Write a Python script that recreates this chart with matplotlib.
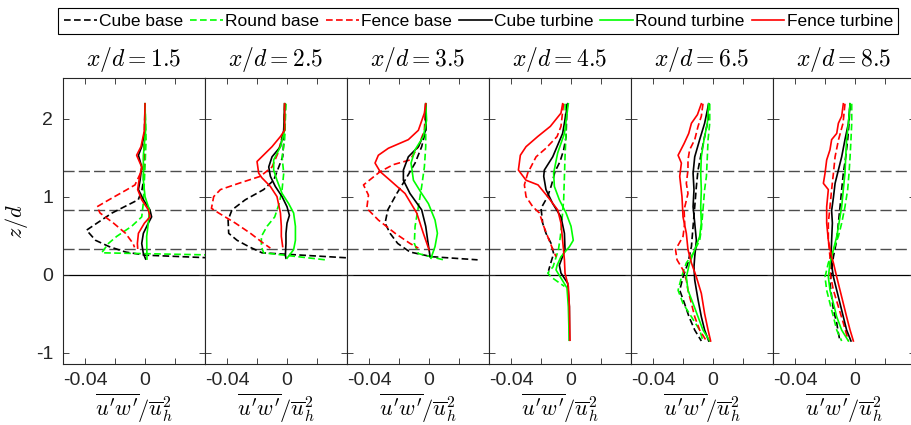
import matplotlib
matplotlib.use("Agg")
import matplotlib.pyplot as plt

plt.rcParams["font.family"] = ["Liberation Sans", "DejaVu Sans"]
plt.rcParams["mathtext.fontset"] = "cm"

stations = ["1.5", "2.5", "3.5", "4.5", "6.5", "8.5"]
labels = ["Cube base", "Round base", "Fence base",
          "Cube turbine", "Round turbine", "Fence turbine"]
colors = ["k", "#00ff00", "#ff0000", "k", "#00ff00", "#ff0000"]
styles = ["--", "--", "--", "-", "-", "-"]

# reference heights (rotor bottom, hub, rotor top)
ref_heights = [1 / 3, 5 / 6, 4 / 3]

# ---- x/d = 1.5 --------------------------------------------------------
cube_base_z_15 = [2.19, 1.64, 1.21, 1.09, 0.96, 0.79, 0.57, 0.44, 0.36, 0.29, 0.25, 0.21]
cube_base_x_15 = [0.0, -0.0005, -0.001, -0.002, -0.0045, -0.022, -0.039, -0.033, -0.024, -0.013, 0.0, 0.05]
round_base_z_15 = [2.19, 1.73, 1.38, 1.09, 0.89, 0.74, 0.62, 0.49, 0.40, 0.28, 0.25]
round_base_x_15 = [0.0, 0.0007, 0.0, -0.0007, -0.0013, -0.0022, -0.0089, -0.0189, -0.0244, -0.0289, 0.05]
fence_base_z_15 = [2.19, 1.73, 1.38, 1.15, 1.09, 0.96, 0.87, 0.79, 0.66, 0.53, 0.40, 0.35]
fence_base_x_15 = [0.0, -0.0004, -0.0011, -0.0067, -0.012, -0.024, -0.032, -0.030, -0.021, -0.013, -0.008, -0.007]
cube_turb_z_15 = [2.19, 1.85, 1.64, 1.53, 1.38, 1.21, 1.09, 0.96, 0.83, 0.74, 0.66, 0.53, 0.40, 0.27, 0.20]
cube_turb_x_15 = [0.0, 0.0, -0.0022, -0.0044, -0.0022, -0.0033, -0.0044, -0.0011, 0.0033, 0.0044, 0.0022, -0.0011, -0.0022, -0.0011, 0.0004]
round_turb_z_15 = [2.19, 1.85, 1.53, 1.21, 1.00, 0.83, 0.66, 0.49, 0.20]
round_turb_x_15 = [0.0, 0.0004, -0.0011, -0.0011, 0.0, 0.0029, 0.0022, 0.0011, 0.0013]
fence_turb_z_15 = [2.19, 1.85, 1.64, 1.53, 1.38, 1.21, 1.09, 0.96, 0.83, 0.74, 0.66, 0.53, 0.40, 0.34]
fence_turb_x_15 = [0.0, -0.0004, -0.0027, -0.0056, -0.0022, -0.004, -0.0049, -0.0022, 0.0022, 0.0033, -0.0004, -0.0044, -0.0051, -0.0049]

# ---- x/d = 2.5 --------------------------------------------------------
cube_base_z_25 = [2.19, 1.85, 1.51, 1.21, 1.09, 0.96, 0.83, 0.70, 0.53, 0.44, 0.36, 0.28, 0.21]
cube_base_x_25 = [-0.0011, -0.0016, -0.0029, -0.0089, -0.0156, -0.0278, -0.0367, -0.0393, -0.0389, -0.0333, -0.0256, -0.0167, 0.045]
round_base_z_25 = [2.19, 1.73, 1.51, 1.30, 1.09, 0.92, 0.74, 0.62, 0.49, 0.36, 0.28, 0.19]
round_base_x_25 = [-0.0007, -0.0016, -0.0033, -0.0022, -0.0033, -0.0051, -0.0082, -0.0133, -0.0171, -0.0171, -0.0156, 0.0256]
fence_base_z_25 = [2.19, 1.85, 1.56, 1.38, 1.26, 1.17, 1.09, 1.00, 0.85, 0.79, 0.66, 0.53, 0.40, 0.34]
fence_base_x_25 = [-0.0016, -0.0022, -0.006, -0.01, -0.0178, -0.0322, -0.0444, -0.0489, -0.0504, -0.0456, -0.0344, -0.0244, -0.0156, -0.0111]
cube_turb_z_25 = [2.19, 1.85, 1.64, 1.51, 1.38, 1.26, 1.13, 1.00, 0.87, 0.76, 0.66, 0.53, 0.40, 0.25, 0.21]
cube_turb_x_25 = [-0.0016, -0.0022, -0.0044, -0.01, -0.0122, -0.0111, -0.0078, -0.0033, 0.0, 0.0016, 0.0, -0.0007, -0.0007, -0.0011, -0.0007]
round_turb_z_25 = [2.19, 1.85, 1.64, 1.47, 1.34, 1.21, 1.04, 0.91, 0.79, 0.62, 0.44, 0.32, 0.21]
round_turb_x_25 = [-0.0016, -0.0016, -0.0044, -0.0089, -0.0089, -0.0067, -0.0033, 0.0011, 0.0044, 0.0056, 0.0056, 0.0044, 0.0]
fence_turb_z_25 = [2.19, 1.85, 1.77, 1.64, 1.45, 1.30, 1.24, 1.13, 1.00, 0.79, 0.62, 0.49, 0.36]
fence_turb_x_25 = [-0.0016, -0.0016, -0.0044, -0.01, -0.02, -0.0189, -0.0167, -0.0111, -0.0067, -0.0044, -0.0038, -0.0038, -0.0029]

# ---- x/d = 3.5 --------------------------------------------------------
cube_base_z_35 = [2.19, 1.85, 1.64, 1.43, 1.21, 1.04, 0.83, 0.66, 0.53, 0.40, 0.29, 0.23, 0.19]
cube_base_x_35 = [-0.0022, -0.0022, -0.0049, -0.0093, -0.016, -0.0215, -0.0275, -0.0293, -0.026, -0.0209, -0.0127, 0.0018, 0.0324]
round_base_z_35 = [2.19, 1.64, 1.38, 1.13, 0.87, 0.62, 0.40, 0.27, 0.19]
round_base_x_35 = [-0.0022, -0.0022, -0.0031, -0.0049, -0.0071, -0.0093, -0.0098, -0.0071, 0.0096]
fence_base_z_35 = [2.19, 1.85, 1.64, 1.47, 1.41, 1.32, 1.15, 1.02, 0.85, 0.70, 0.53, 0.40, 0.34]
fence_base_x_35 = [-0.0022, -0.0031, -0.0071, -0.0127, -0.0238, -0.0326, -0.0437, -0.0404, -0.0415, -0.0338, -0.0226, -0.0127, -0.0071]
cube_turb_z_35 = [2.19, 1.85, 1.64, 1.51, 1.34, 1.21, 1.04, 0.83, 0.62, 0.44, 0.23]
cube_turb_x_35 = [-0.0022, -0.0022, -0.0071, -0.0138, -0.0171, -0.0171, -0.0127, -0.0049, -0.0022, -0.0009, 0.0007]
round_turb_z_35 = [2.19, 1.98, 1.77, 1.60, 1.43, 1.21, 1.04, 0.91, 0.70, 0.53, 0.36, 0.21]
round_turb_x_35 = [-0.0022, -0.0016, -0.0038, -0.0093, -0.012, -0.0104, -0.0049, -0.0004, 0.004, 0.0056, 0.004, 0.0013]
fence_turb_z_35 = [2.19, 2.07, 1.85, 1.73, 1.62, 1.53, 1.43, 1.32, 1.21, 1.04, 0.79, 0.53, 0.32]
fence_turb_x_35 = [-0.0022, -0.0031, -0.0071, -0.0138, -0.0271, -0.0338, -0.036, -0.0326, -0.026, -0.016, -0.0082, -0.0038, 0.0]

# ---- x/d = 4.5 --------------------------------------------------------
cube_base_z_45 = [2.19, 1.77, 1.60, 1.45, 1.32, 1.15, 1.00, 0.85, 0.66, 0.53, 0.40, 0.27, 0.15, 0.05]
cube_base_x_45 = [-0.0027, -0.0033, -0.0049, -0.0073, -0.0107, -0.013, -0.0156, -0.020, -0.0189, -0.0167, -0.0133, -0.0116, -0.0135, -0.015]
round_base_z_45 = [2.19, 1.81, 1.51, 1.26, 0.96, 0.66, 0.49, 0.32, 0.10, 0.02, -0.03, -0.09, -0.15]
round_base_x_45 = [-0.004, -0.0033, -0.004, -0.0044, -0.0049, -0.0062, -0.0071, -0.0084, -0.012, -0.0155, -0.0133, -0.0089, -0.0044]
fence_base_z_45 = [2.19, 1.90, 1.77, 1.62, 1.51, 1.30, 1.15, 1.00, 0.87, 0.79, 0.62, 0.49, 0.36, 0.23]
fence_base_x_45 = [-0.005, -0.0067, -0.0093, -0.0167, -0.0233, -0.0289, -0.0311, -0.03, -0.0255, -0.0211, -0.0182, -0.0156, -0.0129, -0.01]
cube_turb_z_45 = [2.19, 1.81, 1.51, 1.34, 1.26, 1.09, 0.91, 0.74, 0.53, 0.32, 0.12, 0.02, -0.11, -0.41, -0.84]
cube_turb_x_45 = [-0.0022, -0.0056, -0.0122, -0.0178, -0.0182, -0.0167, -0.0122, -0.0067, -0.0044, -0.004, -0.0078, -0.0067, -0.0022, -0.0011, -0.001]
round_turb_z_45 = [2.19, 1.81, 1.56, 1.30, 1.13, 0.96, 0.79, 0.62, 0.44, 0.36, 0.23, 0.12, 0.06, -0.17, -0.41, -0.84]
round_turb_x_45 = [-0.0018, -0.0044, -0.0089, -0.0116, -0.0111, -0.0078, -0.0033, 0.0, 0.0015, -0.001, -0.0067, -0.0093, -0.01, -0.0027, -0.0018, -0.0012]
fence_turb_z_45 = [2.19, 2.07, 1.90, 1.77, 1.64, 1.53, 1.34, 1.21, 1.15, 1.00, 0.83, 0.66, 0.44, 0.19, 0.02, -0.15, -0.41, -0.84]
fence_turb_x_45 = [-0.0056, -0.0067, -0.0138, -0.0222, -0.03, -0.0338, -0.0351, -0.03, -0.022, -0.0156, -0.0089, -0.0067, -0.0056, -0.0044, -0.004, -0.0018, -0.0011, -0.0007]

# ---- x/d = 6.5 --------------------------------------------------------
cube_base_z_65 = [2.19, 1.98, 1.77, 1.56, 1.34, 1.13, 0.87, 0.62, 0.36, 0.15, -0.03, -0.20, -0.37, -0.54, -0.71, -0.85]
cube_base_x_65 = [-0.0029, -0.0033, -0.0056, -0.0078, -0.01, -0.0111, -0.0122, -0.0133, -0.0144, -0.0167, -0.02, -0.0222, -0.019, -0.016, -0.0122, -0.0078]
round_base_z_65 = [2.19, 1.94, 1.73, 1.51, 1.26, 1.09, 0.83, 0.58, 0.44, 0.27, 0.15, -0.03, -0.20, -0.37, -0.54, -0.71, -0.85]
round_base_x_65 = [-0.0022, -0.0022, -0.0033, -0.0038, -0.0044, -0.0056, -0.0067, -0.0078, -0.0089, -0.0133, -0.0178, -0.021, -0.0233, -0.02, -0.0144, -0.0089, -0.0067]
fence_base_z_65 = [2.19, 2.03, 1.90, 1.73, 1.60, 1.47, 1.34, 1.17, 1.04, 0.83, 0.66, 0.49, 0.32, 0.19, 0.06, -0.07, -0.20, -0.37, -0.54, -0.71, -0.85]
fence_base_x_65 = [-0.0067, -0.0078, -0.01, -0.0122, -0.0156, -0.0167, -0.0167, -0.0178, -0.0167, -0.0193, -0.0189, -0.02, -0.025, -0.024, -0.02, -0.0178, -0.0167, -0.0144, -0.0122, -0.0089, -0.0044]
cube_turb_z_65 = [2.19, 1.94, 1.73, 1.51, 1.30, 1.09, 0.87, 0.66, 0.44, 0.23, 0.10, -0.07, -0.32, -0.54, -0.71, -0.85]
cube_turb_x_65 = [-0.0029, -0.0056, -0.0089, -0.0122, -0.0133, -0.0127, -0.0133, -0.0122, -0.0111, -0.0122, -0.0127, -0.0122, -0.01, -0.0078, -0.0056, -0.0029]
round_turb_z_65 = [2.19, 1.94, 1.73, 1.51, 1.30, 1.09, 0.87, 0.66, 0.49, 0.32, 0.15, -0.03, -0.20, -0.37, -0.54, -0.71, -0.85]
round_turb_x_65 = [-0.0029, -0.0038, -0.006, -0.0078, -0.0082, -0.0078, -0.0082, -0.0078, -0.0089, -0.0122, -0.0156, -0.0178, -0.0167, -0.0133, -0.01, -0.0067, -0.0022]
fence_turb_z_65 = [2.19, 2.05, 1.94, 1.81, 1.68, 1.53, 1.43, 1.26, 1.00, 0.74, 0.53, 0.32, 0.15, -0.03, -0.24, -0.50, -0.71, -0.85]
fence_turb_x_65 = [-0.0078, -0.0104, -0.0144, -0.0162, -0.0193, -0.0233, -0.0211, -0.0222, -0.0207, -0.02, -0.0178, -0.0167, -0.0144, -0.0111, -0.0078, -0.0056, -0.0033, -0.0016]

# ---- x/d = 8.5 --------------------------------------------------------
cube_base_z_85 = [2.19, 1.94, 1.73, 1.51, 1.30, 1.09, 0.87, 0.66, 0.44, 0.23, 0.06, -0.11, -0.28, -0.45, -0.62, -0.75, -0.85]
cube_base_x_85 = [-0.0033, -0.004, -0.0049, -0.0062, -0.0078, -0.0089, -0.01, -0.0111, -0.0122, -0.0144, -0.0156, -0.0167, -0.0156, -0.0144, -0.0122, -0.0111, -0.01]
round_base_z_85 = [2.19, 1.94, 1.73, 1.51, 1.30, 1.09, 0.87, 0.66, 0.49, 0.32, 0.15, -0.03, -0.20, -0.37, -0.54, -0.71, -0.85]
round_base_x_85 = [-0.0022, -0.0022, -0.0027, -0.0033, -0.004, -0.0049, -0.0067, -0.0089, -0.0111, -0.0144, -0.0178, -0.02, -0.0189, -0.0167, -0.0144, -0.0122, -0.0089]
fence_base_z_85 = [2.19, 1.94, 1.73, 1.51, 1.30, 1.09, 0.87, 0.66, 0.44, 0.23, 0.02, -0.20, -0.41, -0.62, -0.85]
fence_base_x_85 = [-0.0067, -0.008, -0.011, -0.0133, -0.0144, -0.0156, -0.0167, -0.0178, -0.0178, -0.0167, -0.0167, -0.0144, -0.0111, -0.0078, -0.0044]
cube_turb_z_85 = [2.19, 1.94, 1.73, 1.51, 1.34, 1.17, 0.99, 0.82, 0.66, 0.44, 0.23, 0.06, -0.03, -0.20, -0.37, -0.54, -0.71, -0.85]
cube_turb_x_85 = [-0.0033, -0.0044, -0.0067, -0.0089, -0.0111, -0.0133, -0.0144, -0.0156, -0.0151, -0.0156, -0.016, -0.0151, -0.0144, -0.0122, -0.01, -0.0078, -0.0056, -0.0027]
round_turb_z_85 = [2.19, 1.94, 1.73, 1.51, 1.30, 1.09, 0.87, 0.66, 0.49, 0.32, 0.15, -0.03, -0.20, -0.37, -0.54, -0.71, -0.85]
round_turb_x_85 = [-0.0033, -0.0044, -0.0056, -0.0062, -0.0067, -0.0078, -0.0089, -0.0107, -0.0122, -0.0144, -0.0167, -0.0178, -0.0167, -0.0144, -0.0122, -0.0089, -0.0044]
fence_turb_z_85 = [2.19, 2.03, 1.94, 1.81, 1.73, 1.60, 1.47, 1.30, 1.17, 1.09, 0.87, 0.66, 0.44, 0.23, 0.15, -0.03, -0.20, -0.37, -0.54, -0.71, -0.85]
fence_turb_x_85 = [-0.0078, -0.0089, -0.0111, -0.0122, -0.0156, -0.0167, -0.0189, -0.02, -0.0211, -0.0178, -0.0189, -0.0189, -0.0178, -0.0156, -0.0144, -0.0122, -0.01, -0.0078, -0.0056, -0.0033, -0.0011]

g = globals()
profiles = {}
for st in stations:
    tag = st.replace(".", "")
    profiles[st] = [(g[f"{n}_x_{tag}"], g[f"{n}_z_{tag}"])
                    for n in ["cube_base", "round_base", "fence_base",
                              "cube_turb", "round_turb", "fence_turb"]]

# ---- figure -----------------------------------------------------------
W, H = 912, 425
fig = plt.figure(figsize=(W / 100, H / 100), dpi=100)
left0, pw, top, bot = 63, 142, 78, 364
axc = "0.15"

handles = []
for i, st in enumerate(stations):
    ax = fig.add_axes([(left0 + i * pw) / W, 1 - bot / H, pw / W, (bot - top) / H])
    for h in ref_heights:
        ax.axhline(h, color="0.3", lw=1.0, ls=(0, (8, 3)), zorder=1)
    ax.axhline(0, color="k", lw=0.9, zorder=1)
    for (x, z), lab, c, s in zip(profiles[st], labels, colors, styles):
        ls = (0, (4, 2)) if s == "--" else "-"
        ln, = ax.plot(x, z, color=c, ls=ls, lw=1.2, label=lab, zorder=3)
        if i == 0:
            handles.append(ln)
    ax.set_xlim(-0.0547, 0.04)
    ax.set_ylim(-1.145, 2.52)
    ax.set_xticks([-0.04, -0.02, 0, 0.02])
    ax.set_xticklabels(["-0.04", "", "0", ""])
    ax.set_yticks([-1, 0, 1, 2])
    if i == 0:
        ax.set_yticklabels(["-1", "0", "1", "2"])
        ax.set_ylabel(r"$z/d$", fontsize=16, labelpad=4)
    else:
        ax.set_yticklabels([])
    ax.tick_params(direction="in", top=True, right=True, length=4,
                   width=0.6, color=axc, labelsize=14, labelcolor="0.15")
    ax.tick_params(axis="x", pad=6)
    ax.tick_params(axis="y", pad=7)
    for sp in ax.spines.values():
        sp.set_color(axc)
        sp.set_linewidth(0.8)
    ax.set_title(rf"$x/d = {st}$", fontsize=17, pad=9)
    ax.set_xlabel(r"$\overline{u'w'}/\overline{u}_h^2$", fontsize=16, labelpad=2)

leg = fig.legend(handles, labels, loc="upper left",
                 bbox_to_anchor=(58 / W, 1 - 8 / H), ncol=6, fontsize=12.5,
                 frameon=True, fancybox=False, edgecolor="k", framealpha=1,
                 handlelength=1.9, handletextpad=0.12, columnspacing=0.4,
                 borderpad=0.32, borderaxespad=0)
leg.get_frame().set_linewidth(0.8)

fig.savefig("out.png", dpi=100)
